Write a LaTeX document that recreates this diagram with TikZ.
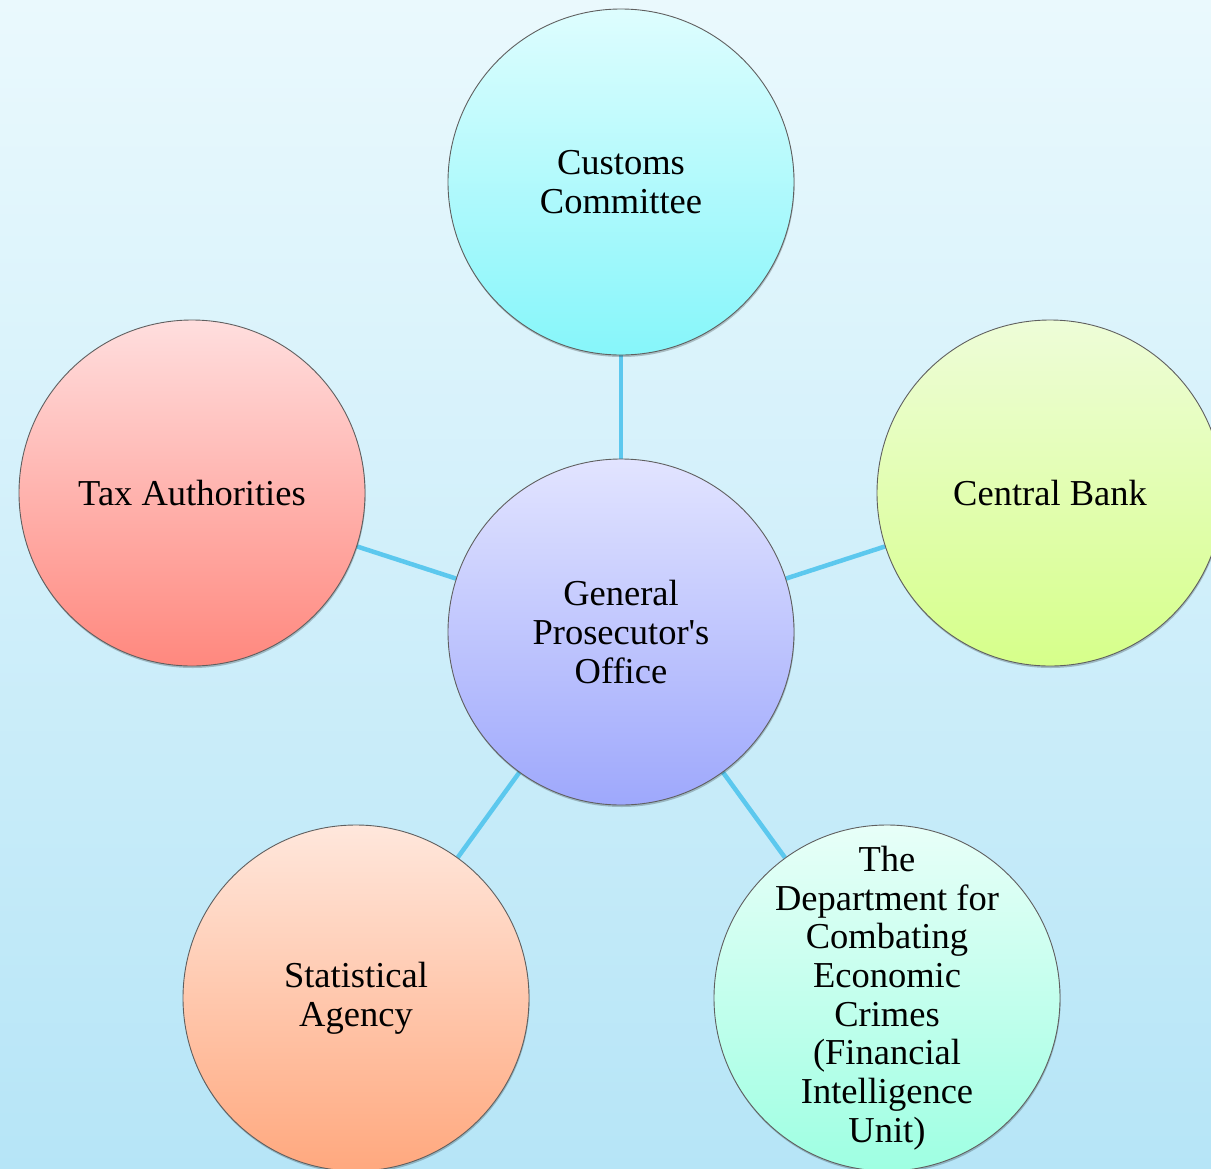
\documentclass[tikz,border=0pt]{standalone}
\usepackage{fontspec}
\setmainfont{Liberation Serif}
\usetikzlibrary{shadows}
\pgfdeclarelayer{bg}
\pgfdeclarelayer{edges}
\pgfsetlayers{bg,edges,main}

\definecolor{bgtop}{RGB}{234,249,253}
\definecolor{bgbot}{RGB}{182,229,247}
\definecolor{linkc}{RGB}{92,200,238}
\definecolor{rimc}{RGB}{95,95,95}
\definecolor{custT}{RGB}{222,253,254}\definecolor{custB}{RGB}{134,246,250}
\definecolor{taxT}{RGB}{255,222,222}\definecolor{taxB}{RGB}{255,136,126}
\definecolor{bankT}{RGB}{238,253,216}\definecolor{bankB}{RGB}{214,255,138}
\definecolor{gpoT}{RGB}{226,228,255}\definecolor{gpoB}{RGB}{158,168,252}
\definecolor{statT}{RGB}{255,231,220}\definecolor{statB}{RGB}{255,168,126}
\definecolor{deptT}{RGB}{232,255,248}\definecolor{deptB}{RGB}{158,255,226}

\tikzset{
  bubble/.style={circle, minimum size=346bp, inner sep=0pt, draw=rimc,
    line width=0.9bp,
    drop shadow={shadow xshift=0.6bp, shadow yshift=-2bp, opacity=0.22, fill=black}},
  caption/.style={align=center, text=black, inner sep=0pt,
    font=\fontsize{36.5bp}{38.7bp}\selectfont},
  link/.style={draw=linkc, line width=4.5bp}
}

\begin{document}
\begin{tikzpicture}[x=1bp, y=-1bp]
  \useasboundingbox (0,0) rectangle (1211,1169);
  \begin{pgfonlayer}{bg}
    \shade[top color=bgtop, bottom color=bgbot] (0,0) rectangle (1211,1169);
  \end{pgfonlayer}

  % hub and the five bodies around it (fixed-size discs, text set on top)
  \node[bubble, top color=gpoT, bottom color=gpoB] (gpo) at (621,632) {};
  \node[bubble, top color=custT, bottom color=custB] (cust) at (621,182) {};
  \node[bubble, top color=taxT, bottom color=taxB] (tax) at (192,493) {};
  \node[bubble, top color=bankT, bottom color=bankB] (bank) at (1050,493) {};
  \node[bubble, top color=statT, bottom color=statB] (stat) at (356,998) {};
  \node[bubble, top color=deptT, bottom color=deptB] (dept) at (887,998) {};

  \node[caption] (gpo-t) at (gpo.center) {General\\Prosecutor\textquotesingle s\\Office};
  \node[caption] (cust-t) at (cust.center) {Customs\\Committee};
  \node[caption] (tax-t) at (tax.center) {Tax Authorities};
  \node[caption] (bank-t) at (bank.center) {Central Bank};
  \node[caption] (stat-t) at (stat.center) {Statistical\\Agency};
  \node[caption] (dept-t) at (dept.center)
    {The\\Department for\\Combating\\Economic\\Crimes\\(Financial\\Intelligence\\Unit)};

  % spokes
  \begin{pgfonlayer}{edges}
    \draw[link] (gpo) -- (cust);
    \draw[link] (gpo) -- (tax);
    \draw[link] (gpo) -- (bank);
    \draw[link] (gpo) -- (stat);
    \draw[link] (gpo) -- (dept);
  \end{pgfonlayer}
\end{tikzpicture}
\end{document}
